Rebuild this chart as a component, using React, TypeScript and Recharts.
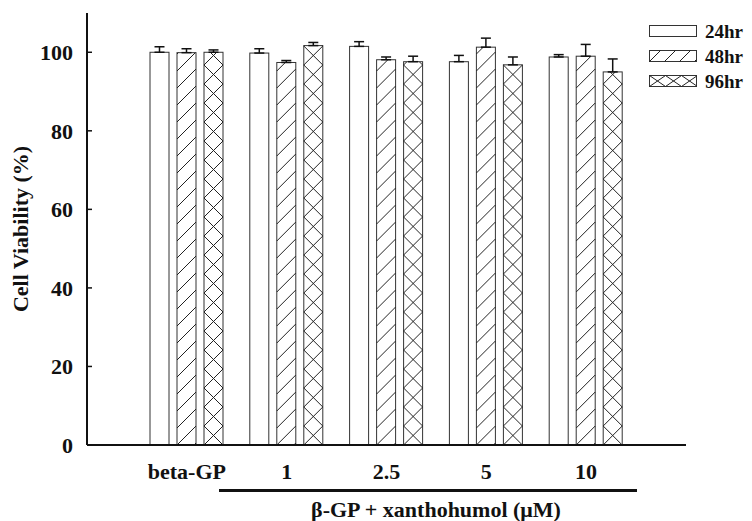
import React from 'react';
import { BarChart, Bar, ErrorBar, XAxis, YAxis } from 'recharts';

// values (cell viability, %)
const groups = ['beta-GP', '1', '2.5', '5', '10'];
const viability24 = [100.0, 99.8, 101.5, 97.6, 98.8];
const viability48 = [99.9, 97.4, 98.1, 101.3, 99.0];
const viability96 = [100.0, 101.7, 97.6, 96.8, 95.0];
// upper error only (SD)
const err24 = [1.4, 1.1, 1.2, 1.6, 0.6];
const err48 = [1.0, 0.5, 0.7, 2.3, 3.0];
const err96 = [0.6, 0.8, 1.4, 2.0, 3.3];
const yTicks = [0, 20, 40, 60, 80, 100];
const seriesNames = ['24hr', '48hr', '96hr'];
const seriesKinds = ['plain', 'hatch', 'cross'];

const data = groups.map((g, i) => ({
  group: g,
  h24: viability24[i],
  h48: viability48[i],
  h96: viability96[i],
  e24: [0, err24[i]],
  e48: [0, err48[i]],
  e96: [0, err96[i]],
}));

const FONT = '"Liberation Serif", "Times New Roman", serif';
const INK = '#111';

// diagonal line segments clipped to a box; origin at bottom-left
function diagLines(x0: number, y0: number, w: number, h: number, slope: number, period: number, dir: '/' | '\\') {
  const out: number[][] = [];
  const yb = y0 + h;
  const span = h / slope;
  const kMin = Math.floor(-(span + period) / period);
  const kMax = Math.ceil((w + span + period) / period);
  for (let k = kMin; k <= kMax; k++) {
    const d = k * period;
    let lo, hi;
    if (dir === '/') { lo = d; hi = d + span; } else { lo = d - span; hi = d; }
    const v1 = Math.max(0, lo);
    const v2 = Math.min(w, hi);
    if (v2 - v1 < 0.01) continue;
    const f = (v: number) => (dir === '/' ? slope * (v - d) : slope * (d - v));
    out.push([x0 + v1, yb - f(v1), x0 + v2, yb - f(v2)]);
  }
  return out;
}

function Fill({ x, y, width, height, kind, slope, period }: any) {
  let segs: number[][] = [];
  if (kind === 'hatch') segs = diagLines(x, y, width, height, slope, period, '/');
  if (kind === 'cross') {
    segs = diagLines(x, y, width, height, slope, period, '/').concat(
      diagLines(x, y, width, height, slope, period, '\\')
    );
  }
  return (
    <g>
      <rect x={x} y={y} width={width} height={height} fill="#fff" stroke="#333" strokeWidth={1} />
      {segs.map((s, i) => (
        <line key={i} x1={s[0]} y1={s[1]} x2={s[2]} y2={s[3]} stroke="#222" strokeWidth={1} />
      ))}
    </g>
  );
}

function PatternBar(props: any) {
  const { x, y, width, height, kind } = props;
  if (!height || height <= 0) return null;
  const period = kind === 'cross' ? width : 17;
  return <Fill x={x} y={y} width={width} height={height} kind={kind} slope={1} period={period} />;
}

function LegendBox() {
  return (
    <svg width={105} height={100} style={{ position: 'absolute', left: 647, top: 10 }}>
      {seriesNames.map((name, i) => {
        const cy = 21 + i * 25;
        const kind = seriesKinds[i];
        return (
          <g key={name}>
            <Fill
              x={2.5}
              y={cy - 5.5}
              width={47}
              height={11}
              kind={kind}
              slope={kind === 'cross' ? 11 / 16 : 1}
              period={kind === 'cross' ? 16 : 15}
            />
            <text x={58} y={cy} dy="0.35em" fontFamily={FONT} fontWeight="bold" fontSize={19} fill={INK}>
              {name}
            </text>
          </g>
        );
      })}
    </svg>
  );
}

function YTick({ x, y, payload }: any) {
  return (
    <g>
      <line x1={x + 14} x2={x + 19} y1={y} y2={y} stroke={INK} strokeWidth={1.5} />
      <text x={x} y={y} dy="0.35em" textAnchor="end" fontFamily={FONT} fontWeight="bold" fontSize={22} fill={INK}>
        {payload.value}
      </text>
    </g>
  );
}

function XTick({ x, y, payload }: any) {
  return (
    <text x={x} y={y + 34} textAnchor="middle" fontFamily={FONT} fontWeight="bold" fontSize={22} fill={INK}>
      {payload.value}
    </text>
  );
}

function YLabel({ viewBox }: any) {
  const cy = viewBox.y + viewBox.height / 2;
  return (
    <text
      x={28}
      y={cy}
      transform={`rotate(-90, 28, ${cy})`}
      textAnchor="middle"
      fontFamily={FONT}
      fontWeight="bold"
      fontSize={22}
      fill={INK}
    >
      Cell Viability (%)
    </text>
  );
}

// bracket under the xanthohumol groups
function XLabel({ viewBox }: any) {
  const { x, y } = viewBox;
  return (
    <g>
      <line x1={x + 132} x2={x + 550} y1={y + 45.5} y2={y + 45.5} stroke={INK} strokeWidth={3} />
      <text x={x + 349} y={y + 72} textAnchor="middle" fontFamily={FONT} fontWeight="bold" fontSize={22} fill={INK}>
        β-GP + xanthohumol (μM)
      </text>
    </g>
  );
}

export default function App() {
  return (
    <div style={{ position: 'absolute', left: 0, top: 0, width: 752, height: 521, background: '#fff' }}>
      <BarChart
        width={752}
        height={521}
        data={data}
        margin={{ top: 13, right: 66, bottom: 0, left: 0 }}
        barSize={19}
        barGap={8}
      >
        <XAxis
          dataKey="group"
          height={76}
          padding={{ left: 50, right: 50 }}
          axisLine={{ stroke: INK, strokeWidth: 2 }}
          tickLine={false}
          tickSize={0}
          tickMargin={0}
          tick={<XTick />}
          interval={0}
          label={<XLabel />}
        />
        <YAxis
          width={87}
          domain={[0, 110]}
          ticks={yTicks}
          allowDataOverflow
          axisLine={{ stroke: INK, strokeWidth: 2 }}
          tickLine={false}
          tickSize={0}
          tickMargin={14}
          tick={<YTick />}
          label={<YLabel />}
        />
        <Bar dataKey="h24" name="24hr" isAnimationActive={false} shape={(p: any) => <PatternBar {...p} kind="plain" />}>
          <ErrorBar dataKey="e24" width={5} stroke={INK} strokeWidth={1.5} isAnimationActive={false} />
        </Bar>
        <Bar dataKey="h48" name="48hr" isAnimationActive={false} shape={(p: any) => <PatternBar {...p} kind="hatch" />}>
          <ErrorBar dataKey="e48" width={5} stroke={INK} strokeWidth={1.5} isAnimationActive={false} />
        </Bar>
        <Bar dataKey="h96" name="96hr" isAnimationActive={false} shape={(p: any) => <PatternBar {...p} kind="cross" />}>
          <ErrorBar dataKey="e96" width={5} stroke={INK} strokeWidth={1.5} isAnimationActive={false} />
        </Bar>
      </BarChart>
      <LegendBox />
    </div>
  );
}
